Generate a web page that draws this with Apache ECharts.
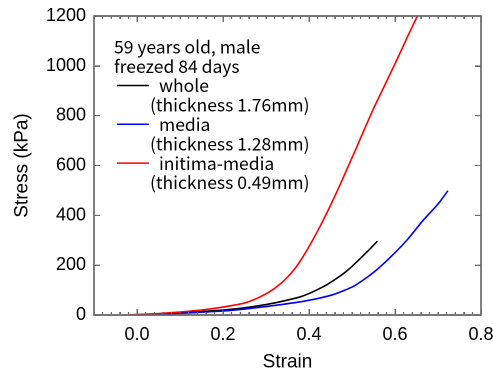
<!DOCTYPE html>
<html>
<head>
<meta charset="utf-8">
<script src="https://cdn.jsdelivr.net/npm/echarts@6/dist/echarts.min.js"></script>
<style>html,body{margin:0;padding:0;background:#fff;overflow:hidden}#c{width:493px;height:371px}</style>
</head>
<body>
<div id="c"></div>
<script>
// ---- data ----
var xTickLabels = [0.0, 0.2, 0.4, 0.6, 0.8];
var yTickLabels = [0, 200, 400, 600, 800, 1000, 1200];

var strainWhole = [0.0, 0.05, 0.1, 0.15, 0.2, 0.25, 0.3, 0.33, 0.36, 0.38, 0.4, 0.42, 0.44, 0.46, 0.48, 0.5, 0.52, 0.54, 0.559];
var stressWhole = [0, 4, 9, 14, 20, 29, 42, 52, 64, 73, 86, 102, 120, 142, 166, 195, 228, 262, 296];

var strainMedia = [0.0, 0.05, 0.1, 0.15, 0.2, 0.25, 0.3, 0.34, 0.38, 0.42, 0.46, 0.5, 0.53, 0.56, 0.6, 0.63, 0.666, 0.7, 0.723];
var stressMedia = [0, 3, 7, 11, 16, 24, 34, 43, 53, 66, 84, 112, 145, 185, 250, 305, 381, 445, 499];

var strainIntima = [-0.02, 0.0, 0.05, 0.1, 0.15, 0.2, 0.25, 0.27, 0.29, 0.31, 0.33, 0.35, 0.37, 0.39, 0.41, 0.43, 0.45, 0.47, 0.49, 0.51, 0.53, 0.55, 0.57, 0.59, 0.61, 0.63, 0.652];
var stressIntima = [0, 2, 6, 12, 20, 32, 48, 60, 76, 95, 120, 152, 192, 245, 305, 370, 440, 514, 592, 670, 750, 828, 900, 972, 1045, 1120, 1200];

var seriesNames = ['whole', 'media', 'initima-media'];
var seriesThick = ['(thickness 1.76mm)', '(thickness 1.28mm)', '(thickness 0.49mm)'];
var seriesColors = ['#000000', '#0000ff', '#ff0000'];
var noteLines = ['59 years old, male', 'freezed 84 days'];

function pairs(xs, ys) { return xs.map(function (x, i) { return [x, ys[i]]; }); }

var axisGray = '#6e6e6e';
var fontAx = 'Liberation Sans, Arial, sans-serif';
var fontLeg = '"Noto Sans CJK JP", sans-serif';
var legSize = 17.5;
var xMin = -0.1, xMax = 0.8, yMin = 0, yMax = 1200, xMinorStep = 0.02;

function xAxisBase(pos, major) {
  var a = {
    type: 'value', position: pos, min: xMin, max: xMax,
    axisLine: {show: true, onZero: false, lineStyle: {color: axisGray, width: 1.5}},
    splitLine: {show: false},
    axisTick: {show: true, inside: true, length: major ? 6 : 3, lineStyle: {color: axisGray, width: 1}},
    axisLabel: {show: false}
  };
  if (major) {
    a.axisTick.customValues = xTickLabels;
    if (pos === 'bottom') {
      a.axisLabel = {show: true, customValues: xTickLabels, fontSize: 18, fontFamily: fontAx, color: '#000', margin: 11,
        formatter: function (v) { return v.toFixed(1); }};
      a.name = 'Strain';
      a.nameLocation = 'middle';
      a.nameGap = 38;
      a.nameTextStyle = {fontSize: 19, fontFamily: fontAx, color: '#000'};
    }
  } else {
    a.interval = xMinorStep;
  }
  return a;
}

var legendGraphics = [];
var lh = 19.4, y0 = 46.7;
noteLines.forEach(function (t, i) {
  legendGraphics.push({type: 'text', style: {text: t, x: 114, y: y0 + i * lh, font: legSize + 'px ' + fontLeg, fill: '#000', verticalAlign: 'middle'}});
});
seriesNames.forEach(function (n, i) {
  var yy = y0 + (2 + 2 * i) * lh;
  legendGraphics.push({type: 'line', shape: {x1: 117, y1: yy, x2: 149, y2: yy}, style: {stroke: seriesColors[i], lineWidth: 1.5}});
  legendGraphics.push({type: 'text', style: {text: n, x: 159, y: yy, font: legSize + 'px ' + fontLeg, fill: '#000', verticalAlign: 'middle'}});
  legendGraphics.push({type: 'text', style: {text: seriesThick[i], x: 150, y: yy + lh, font: legSize + 'px ' + fontLeg, fill: '#000', verticalAlign: 'middle'}});
});

var chart = echarts.init(document.getElementById('c'), null, {renderer: 'canvas', devicePixelRatio: 2});
chart.setOption({
  animation: false,
  backgroundColor: '#fff',
  grid: {left: 94, right: 12, top: 16, bottom: 56, containLabel: false, outerBoundsMode: 'none'},
  xAxis: [xAxisBase('bottom', false), xAxisBase('bottom', true), xAxisBase('top', false), xAxisBase('top', true)],
  yAxis: [
    {type: 'value', position: 'left', min: yMin, max: yMax, interval: 200,
      name: 'Stress (kPa)', nameLocation: 'middle', nameGap: 62, nameRotate: 90,
      nameTextStyle: {fontSize: 19, fontFamily: fontAx, color: '#000'},
      axisLine: {show: true, onZero: false, lineStyle: {color: axisGray, width: 1.5}},
      axisTick: {show: true, inside: true, length: 6, lineStyle: {color: axisGray}},
      axisLabel: {fontSize: 18, fontFamily: fontAx, color: '#000', margin: 8, formatter: function (v) { return String(v); }},
      splitLine: {show: false}},
    {type: 'value', position: 'right', min: yMin, max: yMax, interval: 200,
      axisLine: {show: true, onZero: false, lineStyle: {color: axisGray, width: 1.5}},
      axisTick: {show: true, inside: true, length: 6, lineStyle: {color: axisGray}},
      axisLabel: {show: false}, splitLine: {show: false}}
  ],
  series: [
    {name: seriesNames[0], type: 'line', xAxisIndex: 0, yAxisIndex: 0, data: pairs(strainWhole, stressWhole), showSymbol: false, smooth: 0.2,
      lineStyle: {color: seriesColors[0], width: 1.6}},
    {name: seriesNames[1], type: 'line', xAxisIndex: 0, yAxisIndex: 0, data: pairs(strainMedia, stressMedia), showSymbol: false, smooth: 0.2,
      lineStyle: {color: seriesColors[1], width: 1.6}},
    {name: seriesNames[2], type: 'line', xAxisIndex: 0, yAxisIndex: 0, data: pairs(strainIntima, stressIntima), showSymbol: false, smooth: 0.2,
      lineStyle: {color: seriesColors[2], width: 1.6}}
  ]
});

// frame and ticks placed through the chart's own scales (safety layer over the axes)
var frame = [];
var pLo = chart.convertToPixel({gridIndex: 0}, [xMin, yMin]);
var pHi = chart.convertToPixel({gridIndex: 0}, [xMax, yMax]);
var st = {stroke: axisGray, lineWidth: 1};
frame.push({type: 'rect', z: 100, shape: {x: pLo[0], y: pHi[1], width: pHi[0] - pLo[0], height: pLo[1] - pHi[1]},
  style: {stroke: axisGray, lineWidth: 1.5, fill: null}});
function xTick(v, len) {
  var px = chart.convertToPixel({xAxisIndex: 0}, v);
  frame.push({type: 'line', z: 100, shape: {x1: px, y1: pLo[1], x2: px, y2: pLo[1] - len}, style: st});
  frame.push({type: 'line', z: 100, shape: {x1: px, y1: pHi[1], x2: px, y2: pHi[1] + len}, style: st});
}
for (var k = 1; xMin + k * xMinorStep < xMax - 1e-9; k++) { xTick(xMin + k * xMinorStep, 3); }
xTickLabels.forEach(function (v) { xTick(v, 6); });
yTickLabels.forEach(function (v) {
  var py = chart.convertToPixel({yAxisIndex: 0}, v);
  frame.push({type: 'line', z: 100, shape: {x1: pLo[0], y1: py, x2: pLo[0] + 6, y2: py}, style: st});
  frame.push({type: 'line', z: 100, shape: {x1: pHi[0], y1: py, x2: pHi[0] - 6, y2: py}, style: st});
});

chart.setOption({graphic: legendGraphics.concat(frame)});
</script>
</body>
</html>
